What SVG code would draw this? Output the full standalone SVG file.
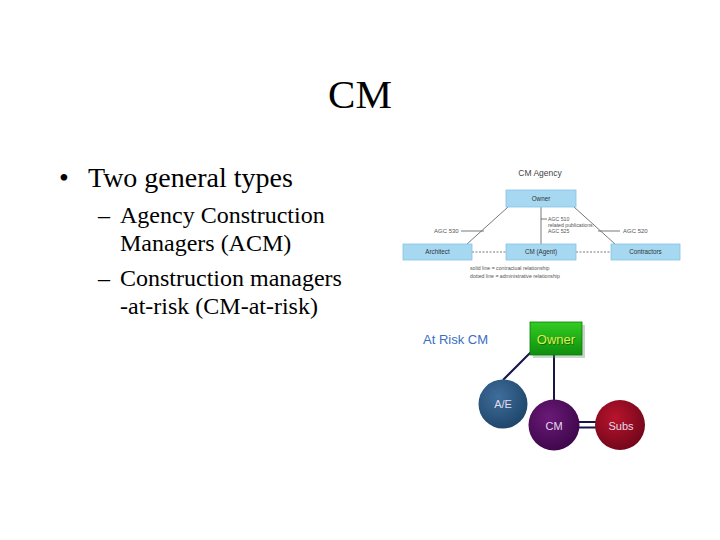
<svg xmlns="http://www.w3.org/2000/svg" width="720" height="540" viewBox="0 0 720 540">
<style>
.serif{font-family:"Liberation Serif","Times New Roman",serif;fill:#000}
.sans{font-family:"Liberation Sans",Arial,sans-serif}
.bbox{fill:#a6d8f2;stroke:#86c2e6;stroke-width:0.8}
.blab{font-family:"Liberation Sans",Arial,sans-serif;font-size:6.3px;fill:#333;text-anchor:middle}
.small{font-family:"Liberation Sans",Arial,sans-serif;font-size:5.2px;fill:#555}
.thin{stroke:#555;stroke-width:0.8;fill:none}
.dash{stroke:#555;stroke-width:0.8;stroke-dasharray:2 1.5;fill:none}
.nav{stroke:#161648;stroke-width:2;fill:none}
.ctext{font-family:"Liberation Sans",Arial,sans-serif;font-size:11px;fill:#e4dcec;text-anchor:middle}
</style>
<defs>
<linearGradient id="gOwner" x1="0" y1="0" x2="0" y2="1">
<stop offset="0" stop-color="#33cc22"/><stop offset="1" stop-color="#0e8f0e"/>
</linearGradient>
<radialGradient id="gAE" cx="0.4" cy="0.35" r="0.7">
<stop offset="0" stop-color="#3f6e9c"/><stop offset="1" stop-color="#1d4468"/>
</radialGradient>
<radialGradient id="gCM" cx="0.4" cy="0.35" r="0.7">
<stop offset="0" stop-color="#6a1a78"/><stop offset="1" stop-color="#3c0648"/>
</radialGradient>
<radialGradient id="gSubs" cx="0.4" cy="0.35" r="0.7">
<stop offset="0" stop-color="#b8142c"/><stop offset="1" stop-color="#70061a"/>
</radialGradient>
</defs>
<rect width="720" height="540" fill="#fff"/>

<g id="slide-text">
<text class="serif" x="360" y="108" font-size="41" text-anchor="middle">CM</text>
<text class="serif" x="59" y="187" font-size="28">•</text>
<text class="serif" x="88" y="187" font-size="28">Two general types</text>
<text class="serif" x="98" y="223" font-size="24">–</text>
<text class="serif" x="120" y="223" font-size="24">Agency Construction</text>
<text class="serif" x="120" y="251" font-size="24">Managers (ACM)</text>
<text class="serif" x="98" y="286" font-size="24">–</text>
<text class="serif" x="120" y="286" font-size="24">Construction managers</text>
<text class="serif" x="120" y="314" font-size="24">-at-risk (CM-at-risk)</text>
</g>

<g id="cm-agency">
<text class="sans" x="540" y="176" font-size="8.5" fill="#444" text-anchor="middle">CM Agency</text>
<g id="agency-connectors">
<line class="thin" x1="508" y1="207" x2="467" y2="244"/>
<line class="thin" x1="574" y1="207" x2="615" y2="244"/>
<line class="thin" x1="541" y1="207" x2="541" y2="244"/>
<line class="dash" x1="472" y1="252" x2="506" y2="252"/>
<line class="dash" x1="576" y1="252" x2="611" y2="252"/>
<line class="thin" x1="461" y1="231" x2="484" y2="231"/>
<line class="thin" x1="598" y1="231" x2="620" y2="231"/>
<line class="thin" x1="541" y1="219" x2="547" y2="219"/>
</g>
<g id="a-owner"><rect class="bbox" x="506" y="190" width="70" height="17"/><text class="blab" x="541" y="200.5">Owner</text></g>
<g id="a-architect"><rect class="bbox" x="403" y="244" width="69" height="16"/><text class="blab" x="437.5" y="254">Architect</text></g>
<g id="a-cm"><rect class="bbox" x="506" y="244" width="70" height="16"/><text class="blab" x="541" y="254">CM (Agent)</text></g>
<g id="a-contractors"><rect class="bbox" x="611" y="244" width="69" height="16"/><text class="blab" x="645.5" y="254">Contractors</text></g>
<text class="sans" x="434" y="233" font-size="6" fill="#555">AGC 530</text>
<text class="sans" x="623" y="233" font-size="6" fill="#555">AGC 520</text>
<text class="small" x="548" y="221">AGC 510</text>
<text class="small" x="548" y="227">related publications:</text>
<text class="small" x="548" y="233">AGC 525</text>
<text class="small" x="470" y="270">solid line = contractual relationship</text>
<text class="small" x="470" y="278">dotted line = administrative relationship</text>
</g>

<g id="at-risk">
<text class="sans" x="423" y="344" font-size="13" fill="#3a6ec4">At Risk CM</text>
<g id="risk-connectors">
<line class="nav" x1="531" y1="352" x2="503" y2="380"/>
<line class="nav" x1="554" y1="355" x2="554" y2="400"/>
<line class="nav" x1="576" y1="422" x2="598" y2="422"/>
<line class="nav" x1="576" y1="427.5" x2="598" y2="427.5"/>
</g>
<g id="r-owner">
<rect x="533" y="325" width="52" height="33" fill="#6a8a6a" opacity="0.35"/>
<rect x="530" y="322" width="52" height="33" fill="url(#gOwner)" stroke="#0b7a0b" stroke-width="0.8"/>
<text class="sans" x="556" y="344" font-size="13" fill="#0c3c0c" opacity="0.5" text-anchor="middle" dx="0.8" dy="0.8">Owner</text>
<text class="sans" x="556" y="344" font-size="13" fill="#dcf048" text-anchor="middle">Owner</text>
</g>
<g id="r-ae"><circle cx="503" cy="404" r="24.5" fill="url(#gAE)"/><text class="ctext" x="503" y="408">A/E</text></g>
<g id="r-cm"><circle cx="554" cy="425" r="25.5" fill="url(#gCM)"/><text class="ctext" x="554" y="429.5">CM</text></g>
<g id="r-subs"><circle cx="620" cy="425" r="25" fill="url(#gSubs)"/><text class="ctext" x="621" y="429.5">Subs</text></g>
</g>
</svg>
